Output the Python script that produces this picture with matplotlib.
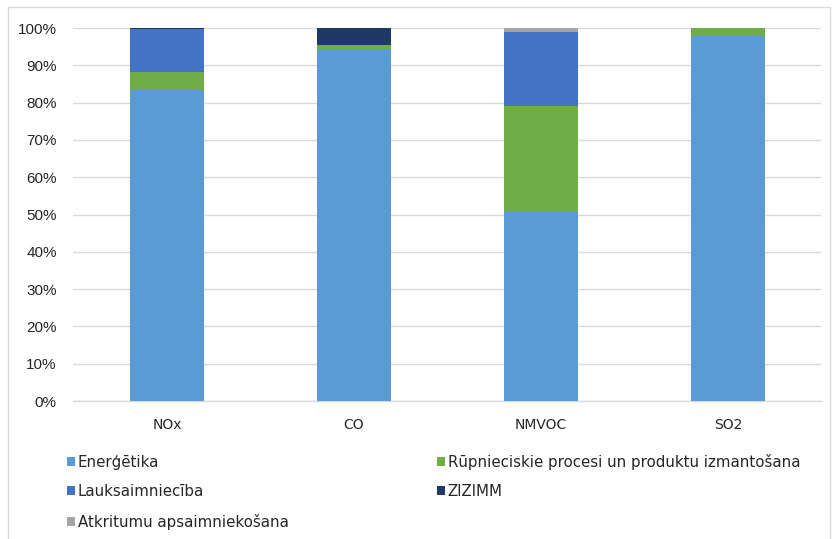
import matplotlib
matplotlib.use("Agg")
import matplotlib.pyplot as plt
import numpy as np
from matplotlib.patches import Rectangle

# ── Data ───────────────────────────────────────────────────────────────────
categories = ["NOx", "CO", "NMVOC", "SO2"]
series_names = ["Enerģētika", "Rūpnieciskie procesi un produktu izmantošana",
                "Lauksaimniecība", "ZIZIMM", "Atkritumu apsaimniekošana"]
energetika   = [83.5, 94.3, 50.7, 97.8]
rupnieciskie = [4.6, 1.2, 28.5, 2.2]
lauksaimn    = [11.6, 0.0, 19.8, 0.0]
zizimm       = [0.2, 4.5, 0.0, 0.0]
atkritumi    = [0.1, 0.0, 1.0, 0.0]
colors = ["#5B9BD5", "#70AD47", "#4472C4", "#203864", "#A5A5A5"]

values = [energetika, rupnieciskie, lauksaimn, zizimm, atkritumi]

# ── Plot ───────────────────────────────────────────────────────────────────
fig = plt.figure(figsize=(8.32, 5.39), dpi=100)
ax = fig.add_axes([0.0883, 0.256, 0.899, 0.692])

x = np.arange(len(categories))
bottom = np.zeros(len(categories))
handles = []
for name, vals, col in zip(series_names, values, colors):
    vals = np.array(vals) / 100.0
    b = ax.bar(x, vals, 0.4, bottom=bottom, color=col, label=name, zorder=3)
    handles.append(b)
    bottom += vals

ax.set_xlim(-0.5, len(categories) - 0.5)
ax.set_ylim(0, 1.0)
ax.set_yticks(np.arange(0, 1.01, 0.1))
ax.set_yticklabels([f"{int(round(t*100))}%" for t in np.arange(0, 1.01, 0.1)],
                   fontsize=11, family="Liberation Sans", color="#262626")
ax.set_xticks(x)
ax.set_xticklabels(categories, fontsize=10, color="#262626")
ax.tick_params(axis="both", length=0)
ax.tick_params(axis="x", pad=12)
ax.tick_params(axis="y", pad=12)
ax.grid(axis="y", color="#D9D9D9", linewidth=1.0, zorder=0)
for s in ["top", "right", "left"]:
    ax.spines[s].set_visible(False)
ax.spines["bottom"].set_color("#D9D9D9")
ax.spines["bottom"].set_linewidth(1.0)

# legend: column-wise order for a 2-column, row-wise reading
order = [0, 2, 4, 1, 3]
leg = fig.legend([handles[i] for i in order], [series_names[i] for i in order],
                 ncol=2, loc="upper left", bbox_to_anchor=(0.080, 0.1586),
                 frameon=False, fontsize=10.8, handlelength=0.53, handleheight=0.53,
                 handletextpad=0.2, labelspacing=0.97, columnspacing=9.9,
                 borderaxespad=0, borderpad=0)
for t in leg.get_texts():
    t.set_color("#262626")

# chart border
fig.patches.append(Rectangle((8 / 832, -0.01), 822 / 832, 1 - 7 / 539 + 0.01,
                             transform=fig.transFigure, fill=False,
                             edgecolor="#D9D9D9", linewidth=1.0))

fig.savefig("out.png", dpi=100)
